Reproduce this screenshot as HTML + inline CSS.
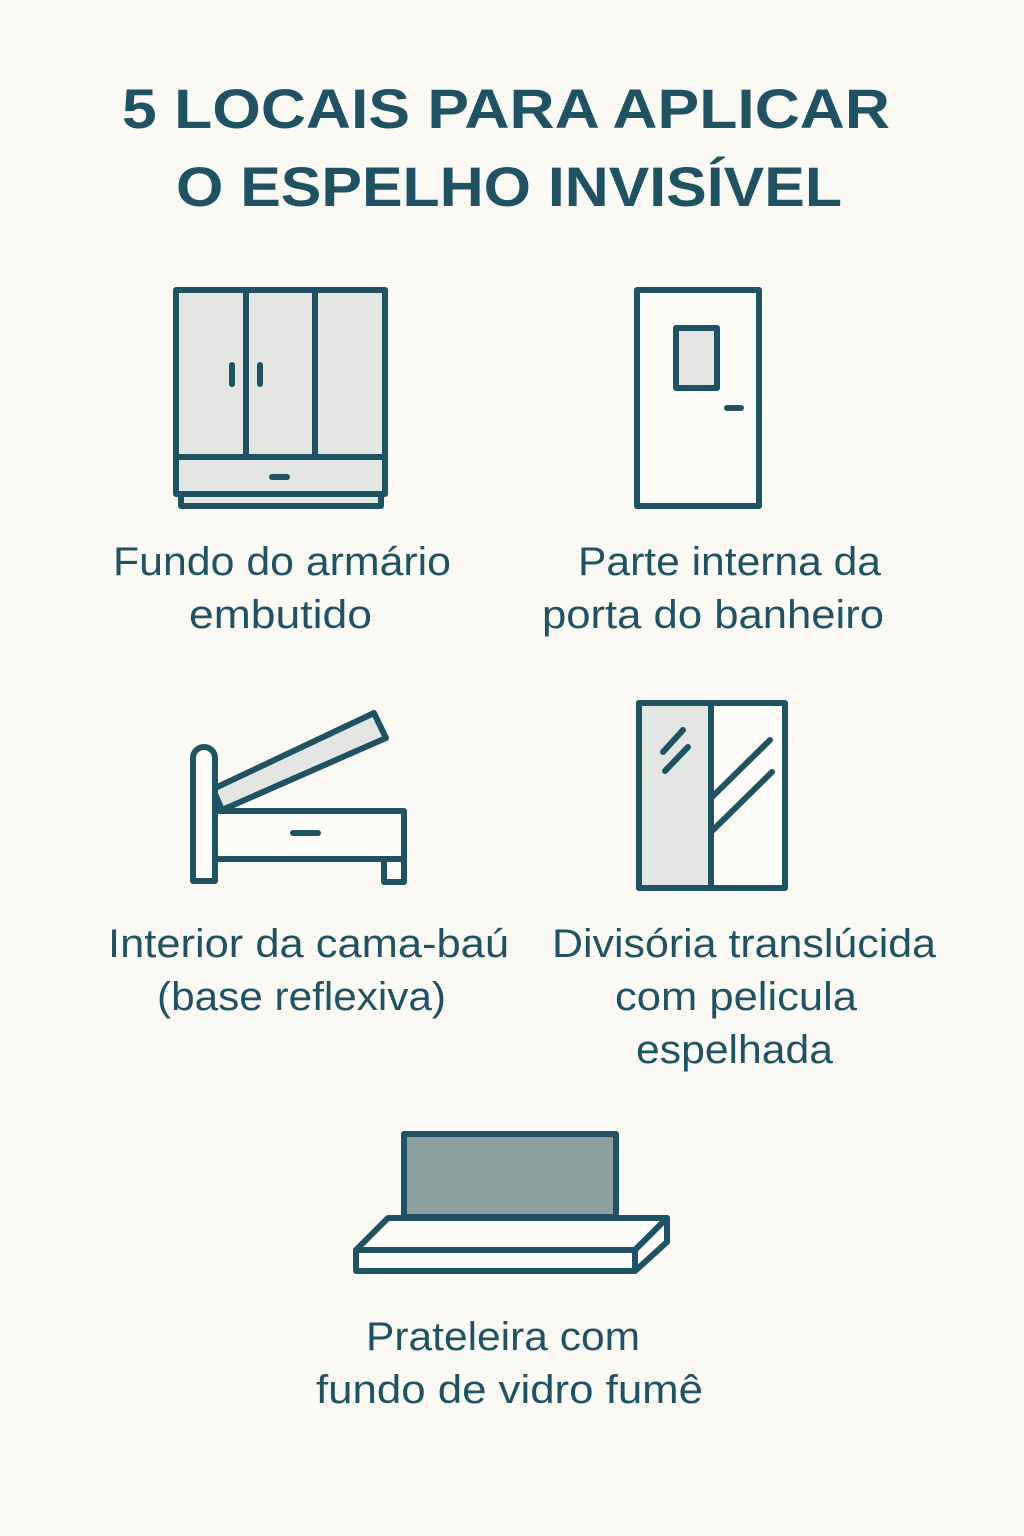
<!DOCTYPE html>
<html><head><meta charset="utf-8"><style>
html,body{margin:0;padding:0;background:#fbf9f4;}
svg{display:block}
text{font-family:"Liberation Sans",sans-serif;fill:#1f5363;}
.t{font-weight:bold;font-size:56px;}
.l{font-size:40px;}
</style></head><body>
<svg width="1024" height="1536" viewBox="0 0 1024 1536" xmlns="http://www.w3.org/2000/svg">
<rect width="1024" height="1536" fill="#fbf9f4"/>
<text class="t" x="506" y="128" text-anchor="middle" textLength="768" lengthAdjust="spacingAndGlyphs">5 LOCAIS PARA APLICAR</text>
<text class="t" x="509" y="206" text-anchor="middle" textLength="666" lengthAdjust="spacingAndGlyphs">O ESPELHO INVISÍVEL</text>

<g stroke="#1f5363" stroke-width="6" stroke-linejoin="round" stroke-linecap="round" fill="none">
<!-- wardrobe -->
<rect x="181" y="493" width="200" height="13" fill="#e3e6e2"/>
<rect x="176" y="290" width="209" height="204" fill="#e3e6e2"/>
<line x1="246" y1="290" x2="246" y2="457"/>
<line x1="315" y1="290" x2="315" y2="457"/>
<line x1="176" y1="457" x2="385" y2="457"/>
<line x1="232" y1="365" x2="232" y2="384"/>
<line x1="260" y1="365" x2="260" y2="384"/>
<line x1="272" y1="477" x2="287" y2="477"/>
<!-- door -->
<rect x="637" y="290" width="122" height="216" fill="#fdfcf9"/>
<rect x="676" y="328" width="41" height="60" fill="#e3e6e2"/>
<line x1="727" y1="408" x2="741" y2="408"/>
<!-- bed -->
<polygon points="213,789 374,713 386,738 222,810" fill="#e3e6e2"/>
<path d="M193,881 V758 a11,11 0 0 1 22,0 V881 Z" fill="#fdfcf9"/>
<rect x="215" y="811" width="189" height="48" fill="#fdfcf9"/>
<rect x="384" y="859" width="20" height="23" fill="#fdfcf9"/>
<line x1="293" y1="833" x2="318" y2="833"/>
<!-- partition -->
<rect x="639" y="703" width="146" height="185" fill="#fdfcf9"/>
<rect x="639" y="703" width="72" height="185" fill="#e3e6e2"/>
<line x1="711" y1="703" x2="711" y2="888"/>
<line x1="663" y1="752" x2="683" y2="730"/>
<line x1="665" y1="771" x2="688" y2="747"/>
<line x1="711" y1="798" x2="770" y2="740"/>
<line x1="711" y1="832" x2="772" y2="772"/>
<!-- shelf -->
<rect x="404" y="1134" width="212" height="83" fill="#8e9fa0"/>
<polygon points="356,1250 388,1218 667,1218 635,1250" fill="#fdfcf9"/>
<rect x="356" y="1250" width="279" height="21" fill="#fdfcf9"/>
<polygon points="635,1250 667,1218 667,1242 635,1271" fill="#fdfcf9"/>
</g>

<g lengthAdjust="spacingAndGlyphs">
<text class="l" x="113" y="575" textLength="338" lengthAdjust="spacingAndGlyphs">Fundo do armário</text>
<text class="l" x="189" y="628" textLength="183" lengthAdjust="spacingAndGlyphs">embutido</text>
<text class="l" x="578" y="575" textLength="303" lengthAdjust="spacingAndGlyphs">Parte interna da</text>
<text class="l" x="542" y="628" textLength="342" lengthAdjust="spacingAndGlyphs">porta do banheiro</text>
<text class="l" x="108" y="957" textLength="401" lengthAdjust="spacingAndGlyphs">Interior da cama-baú</text>
<text class="l" x="157" y="1010" textLength="289" lengthAdjust="spacingAndGlyphs">(base reflexiva)</text>
<text class="l" x="552" y="957" textLength="384" lengthAdjust="spacingAndGlyphs">Divisória translúcida</text>
<text class="l" x="615" y="1010" textLength="242" lengthAdjust="spacingAndGlyphs">com pelicula</text>
<text class="l" x="636" y="1063" textLength="197" lengthAdjust="spacingAndGlyphs">espelhada</text>
<text class="l" x="366" y="1350" textLength="274" lengthAdjust="spacingAndGlyphs">Prateleira com</text>
<text class="l" x="316" y="1403" textLength="387" lengthAdjust="spacingAndGlyphs">fundo de vidro fumê</text>
</g>
</svg>
</body></html>
